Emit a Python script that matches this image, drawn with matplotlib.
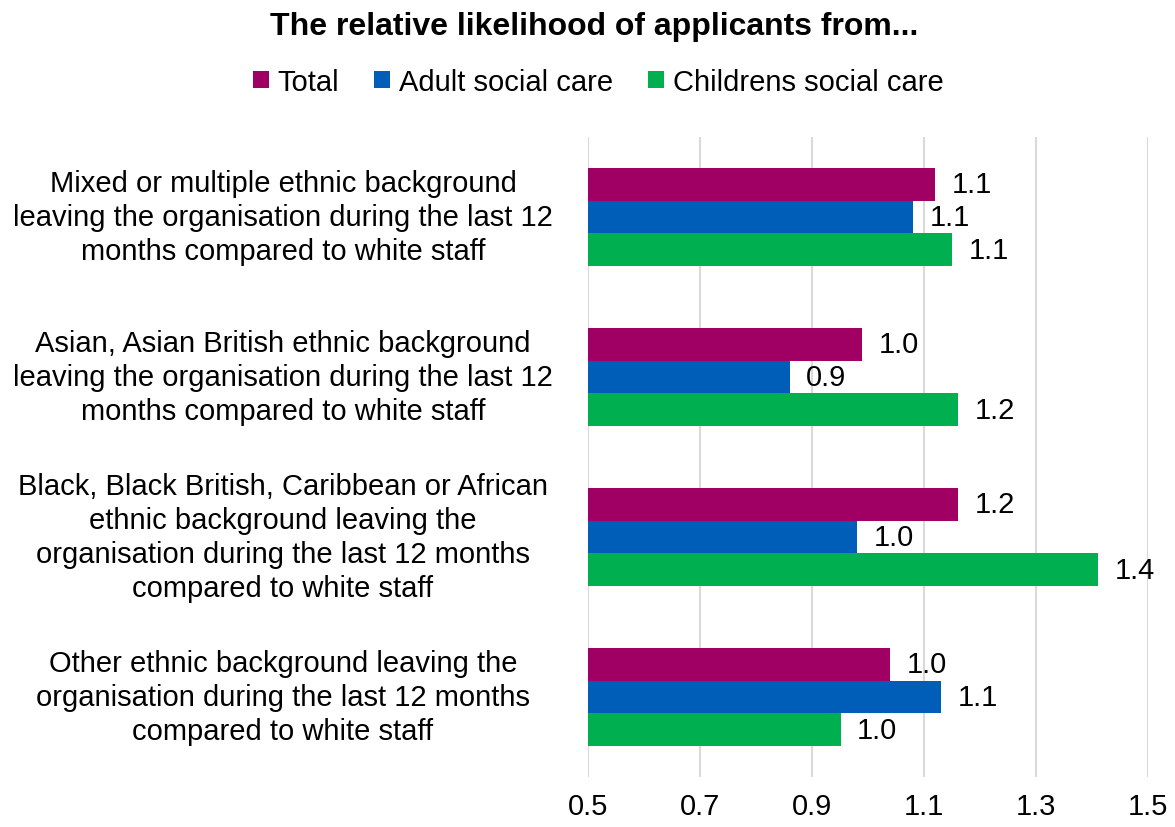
import matplotlib
matplotlib.use("Agg")
import matplotlib.pyplot as plt
import matplotlib.transforms as mtransforms
from matplotlib.patches import Patch
import numpy as np

plt.rcParams['font.family'] = ['Liberation Sans', 'DejaVu Sans']

# data
categories = [
    "Mixed or multiple ethnic background\nleaving the organisation during the last 12\nmonths compared to white staff",
    "Asian, Asian British ethnic background\nleaving the organisation during the last 12\nmonths compared to white staff",
    "Black, Black British, Caribbean or African\nethnic background leaving the\norganisation during the last 12 months\ncompared to white staff",
    "Other ethnic background leaving the\norganisation during the last 12 months\ncompared to white staff",
]
series_names = ["Total", "Adult social care", "Childrens social care"]
total = [1.12, 0.99, 1.16, 1.04]
adult = [1.08, 0.86, 0.98, 1.13]
children = [1.15, 1.16, 1.41, 0.951]
colors = ["#A00064", "#005EB8", "#00B050"]
xticks = [0.5, 0.7, 0.9, 1.1, 1.3, 1.5]

fig = plt.figure(figsize=(11.75, 8.28), dpi=100)
ax = fig.add_axes([588 / 1175, 1 - 778 / 828, 560 / 1175, 640 / 828])

y = np.arange(len(categories))
h = 0.206
for i, vals in enumerate([total, adult, children]):
    pos = y + (i - 1) * h
    ax.barh(pos, np.array(vals) - 0.5, left=0.5, height=h, color=colors[i],
            zorder=3)
    for p, v in zip(pos, vals):
        ax.annotate(f"{v:.1f}", (v, p), xytext=(12, 0), textcoords="offset points",
                    ha="left", va="center", fontsize=21, zorder=4)

ax.set_xlim(0.5, 1.5)
ax.set_ylim(len(categories) - 0.5, -0.5)
ax.set_xticks(xticks)
ax.set_xticklabels([f"{t:.1f}" for t in xticks], fontsize=21)
ax.tick_params(axis="x", length=0, pad=11)
ax.set_yticks([])
ax.grid(axis="x", color="#D9D9D9", linewidth=1.5, zorder=0)
for s in ax.spines.values():
    s.set_visible(False)

trans = mtransforms.blended_transform_factory(fig.transFigure, ax.transData)
for yy, c in zip(y, categories):
    ax.text(283 / 1175, yy, c, transform=trans, ha="center", va="center",
            multialignment="center", fontsize=21, linespacing=1.26)

fig.text(594 / 1175, 1 - 27 / 828, "The relative likelihood of applicants from...",
         ha="center", va="center", fontsize=23, fontweight="bold")

handles = [Patch(facecolor=c) for c in colors]
fig.legend(handles, series_names, loc="center", bbox_to_anchor=(598 / 1175, 1 - 83 / 828),
           ncol=3, frameon=False, fontsize=21, handlelength=0.55, handleheight=0.55,
           handletextpad=0.3, columnspacing=1.2)

fig.savefig("out.png", dpi=100)
